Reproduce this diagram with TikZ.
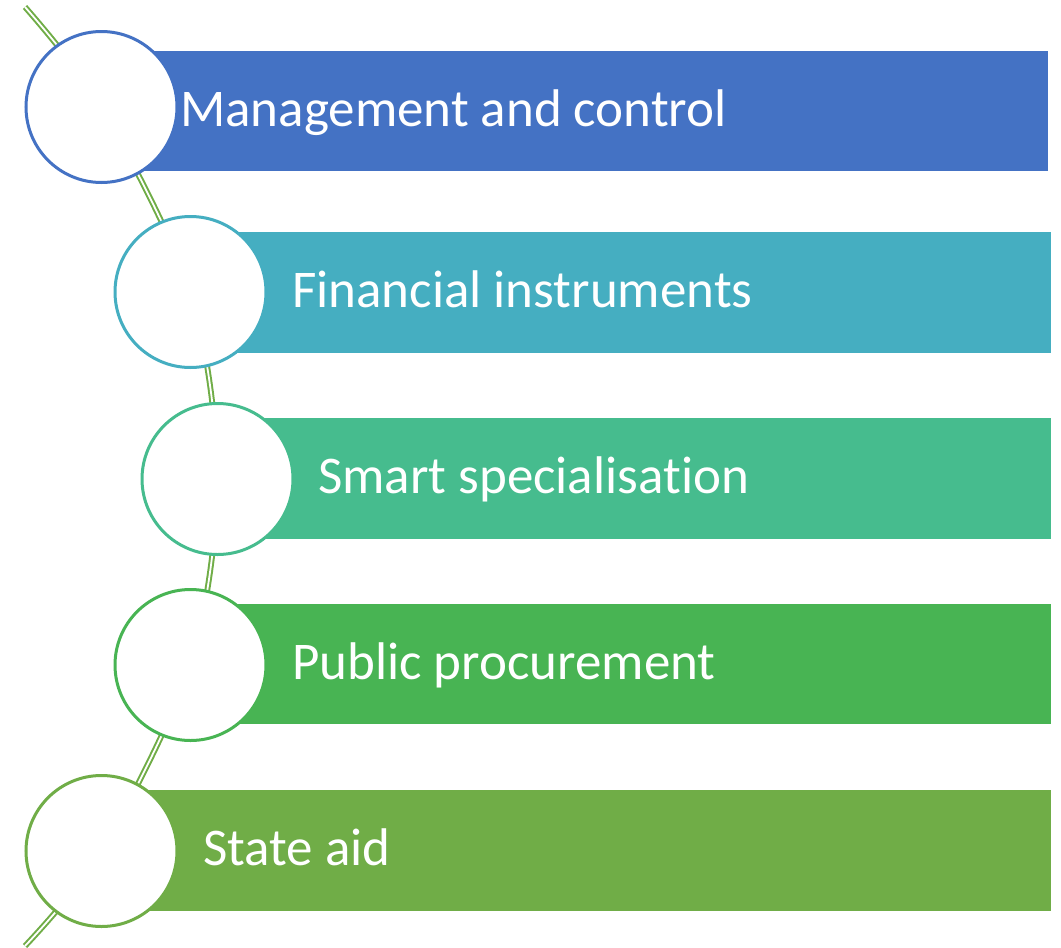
\documentclass[tikz,border=0pt]{standalone}
\usepackage{fontspec}
\setmainfont{Carlito}[Ligatures=NoCommon]
\usepackage{tikz}
\usetikzlibrary{positioning}
\definecolor{mgmtblue}{HTML}{4472C4}
\definecolor{finteal}{HTML}{45AEC1}
\definecolor{smartgreen}{HTML}{46BC8E}
\definecolor{publicgreen}{HTML}{48B453}
\definecolor{stategreen}{HTML}{70AD47}

\begin{document}
\begin{tikzpicture}[x=1pt, y=-1pt,
    ring/.style = {circle, draw=#1, line width=3pt, fill=white, minimum size=151pt, inner sep=0pt},
    link/.style = {draw=stategreen, line width=2pt, double=white, double distance=1.8pt},
    label/.style = {anchor=base west, inner sep=0pt, text=white, font=\fontsize{53}{60}\selectfont}]
  \useasboundingbox (0,0) rectangle (1061,948);
  % centres of the rings
  \coordinate (p1) at (101.5,107);
  \coordinate (p2) at (190.5,292);
  \coordinate (p3) at (217.5,479);
  \coordinate (p4) at (190.5,665);
  \coordinate (p5) at (101.5,851);
  \coordinate (top) at (25,7);
  \coordinate (bottom) at (25,946);
  \draw[link] plot[smooth] coordinates {(top) (p1) (p2) (p3) (p4) (p5) (bottom)};
  % bars
  \fill[mgmtblue] (101,51) rectangle (1048,171);
  \fill[finteal] (190,232) rectangle (1051,353);
  \fill[smartgreen] (217,418) rectangle (1051,539);
  \fill[publicgreen] (190,604) rectangle (1051,724);
  \fill[stategreen] (101,790) rectangle (1051,911);
  % rings
  \node[ring=mgmtblue] (r1) at (p1) {};
  \node[ring=finteal] (r2) at (p2) {};
  \node[ring=smartgreen] (r3) at (p3) {};
  \node[ring=publicgreen] (r4) at (p4) {};
  \node[ring=stategreen] (r5) at (p5) {};
  % texts
  \node[label] (t1) at (180,126) {Management and control};
  \node[label] (t2) at (292,307.5) {Financial instruments};
  \node[label] (t3) at (318,493.5) {Smart specialisation};
  \node[label] (t4) at (292,679) {Public procurement};
  \node[label] (t5) at (203,865.5) {State aid};
\end{tikzpicture}
\end{document}
